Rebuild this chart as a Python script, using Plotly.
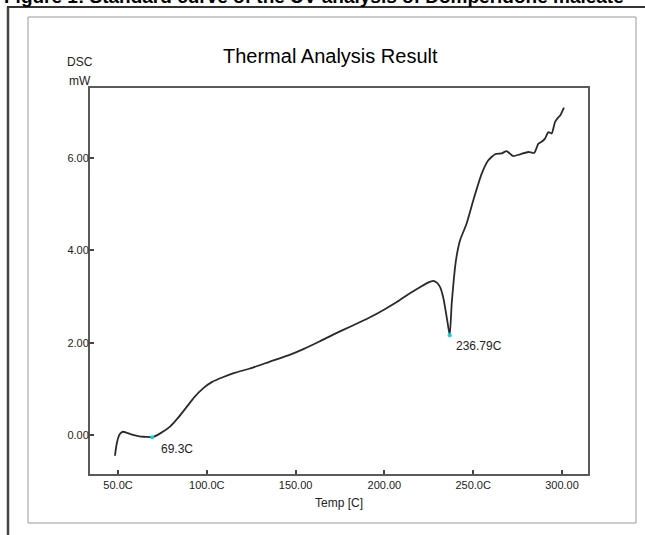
import plotly.graph_objects as go

# ---- data ----
temp = [48.3, 49.0, 50.2, 51.2, 52.8, 55.5, 58.4, 62.0, 65.5, 69.3, 74.0, 79.3, 84.0, 88.7, 93.0,
        97.9, 103.0, 109.0, 116.0, 124.3, 135.6, 146.3, 155.0, 163.7, 172.0, 181.0, 191.9, 200.0,
        207.0, 214.4, 220.0, 224.5, 227.5, 229.5, 231.3, 233.0, 234.1, 235.5, 236.79, 237.9, 238.8,
        239.8, 241.0, 242.6, 246.3, 250.1, 254.8, 258.5, 262.3, 266.0, 268.8, 270.5, 272.6, 276.4,
        281.0, 284.4, 286.7, 288.5, 290.4, 292.3, 294.2, 296.1, 297.9, 299.0, 301.1]
dsc = [-0.45, -0.25, -0.05, 0.03, 0.07, 0.04, 0.00, -0.03, -0.04, -0.05, 0.04, 0.18, 0.38, 0.61, 0.82,
       1.01, 1.15, 1.25, 1.35, 1.44, 1.59, 1.73, 1.87, 2.03, 2.19, 2.35, 2.55, 2.72,
       2.88, 3.07, 3.20, 3.30, 3.34, 3.30, 3.21, 3.00, 2.78, 2.45, 2.16, 2.85, 3.25,
       3.64, 3.95, 4.22, 4.58, 5.09, 5.66, 5.95, 6.08, 6.10, 6.15, 6.10, 6.04, 6.08,
       6.13, 6.11, 6.31, 6.35, 6.42, 6.56, 6.53, 6.78, 6.88, 6.92, 7.09]
peak_temp = [69.3, 236.79]
peak_dsc = [-0.05, 2.16]
peak_labels = ["69.3C", "236.79C"]
x_tick_vals = [50, 100, 150, 200, 250, 300]
x_tick_text = ["50.0C", "100.0C", "150.00", "200.00", "250.0C", "300.00"]
y_tick_vals = [0, 2, 4, 6]
y_tick_text = ["0.00", "2.00", "4.00", "6.00"]

W, H = 645, 535
L, R, T, B = 90, 588, 88, 474


def px(x):
    return (x - L) / (R - L)


def py(y):
    return (B - y) / (B - T)


fig = go.Figure()
fig.add_trace(go.Scatter(x=temp, y=dsc, mode="lines",
                         line=dict(color="#2a2a2a", width=1.8, shape="spline", smoothing=0.5),
                         showlegend=False))
fig.add_trace(go.Scatter(x=peak_temp, y=peak_dsc, mode="markers",
                         marker=dict(color="#00d8e8", size=4), showlegend=False))

font_main = "Liberation Sans, Arial"
for t, v, lab in zip(peak_temp, peak_dsc, peak_labels):
    fig.add_annotation(x=t, y=v, text=lab, showarrow=False, xanchor="left", yanchor="middle",
                       xshift=7 if t < 100 else 4, yshift=-12 if t < 100 else -11,
                       font=dict(family=font_main, size=12, color="#222222"))

fig.add_annotation(xref="paper", yref="paper", x=px(330), y=py(56), text="Thermal Analysis Result",
                   showarrow=False, xanchor="center", yanchor="middle",
                   font=dict(family=font_main, size=20, color="#000000"))
fig.add_annotation(xref="paper", yref="paper", x=px(80), y=py(62), text="DSC",
                   showarrow=False, xanchor="center", yanchor="middle",
                   font=dict(family=font_main, size=12, color="#222222"))
fig.add_annotation(xref="paper", yref="paper", x=px(80), y=py(81), text="mW",
                   showarrow=False, xanchor="center", yanchor="middle",
                   font=dict(family=font_main, size=12, color="#222222"))
fig.add_annotation(xref="paper", yref="paper", x=px(2), y=py(9),
                   text="<b>Figure 1: Standard curve of the UV analysis of Domperidone maleate</b>",
                   showarrow=False, xanchor="left", yanchor="bottom",
                   font=dict(family=font_main, size=19, color="#000000"))

# frames
fig.add_shape(type="rect", xref="paper", yref="paper", x0=px(28), x1=px(636), y0=py(523), y1=py(17),
              line=dict(color="#9a9a9a", width=1), layer="below")
fig.add_shape(type="line", xref="paper", yref="paper", x0=px(8), x1=px(8), y0=py(7), y1=py(540),
              line=dict(color="#444444", width=2.5))
fig.add_shape(type="line", xref="paper", yref="paper", x0=px(7), x1=px(650), y0=py(7), y1=py(7),
              line=dict(color="#333333", width=2))

axis_common = dict(showline=True, mirror=True, linecolor="#5a5a5a", linewidth=2,
                   showgrid=False, zeroline=False, ticks="inside", ticklen=4,
                   tickcolor="#444444", tickwidth=1.5,
                   tickfont=dict(family=font_main, size=11, color="#222222"))

fig.update_xaxes(range=[34.23, 314.64], tickvals=x_tick_vals, ticktext=x_tick_text,
                 title=dict(text="Temp [C]", standoff=8,
                            font=dict(family=font_main, size=12, color="#222222")),
                 **axis_common)
fig.update_yaxes(range=[-0.845, 7.516], tickvals=y_tick_vals, ticktext=y_tick_text,
                 ticklabelstandoff=-3, **axis_common)

fig.update_layout(width=W, height=H, autosize=False,
                  margin=dict(l=L, r=W - R, t=T, b=H - B, pad=0),
                  paper_bgcolor="white", plot_bgcolor="white")

fig.write_html("out.html")
